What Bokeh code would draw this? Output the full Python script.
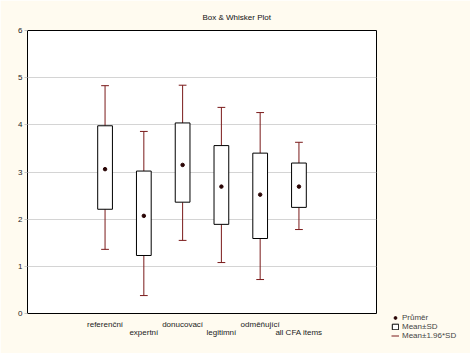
from bokeh.plotting import figure
from bokeh.models import (ColumnDataSource, LinearAxis, FixedTicker, Range1d,
                          Legend, LegendItem, Grid)
from bokeh.embed import file_html
from bokeh.resources import INLINE

categories = ["referenční", "expertní", "donucovací", "legitimní", "odměňující", "all CFA items"]
mean = [3.06, 2.07, 3.15, 2.69, 2.52, 2.69]
sd_low = [2.21, 1.23, 2.36, 1.89, 1.59, 2.25]
sd_high = [3.98, 3.02, 4.04, 3.56, 3.40, 3.19]
ci_low = [1.36, 0.38, 1.55, 1.08, 0.72, 1.78]
ci_high = [4.83, 3.86, 4.84, 4.37, 4.26, 3.63]
y_ticks = [0, 1, 2, 3, 4, 5, 6]

pos = list(range(1, len(categories) + 1))
FONT = "Liberation Sans"
BG = "#FFFBF0"

src = ColumnDataSource(dict(x=pos, mean=mean, sd_low=sd_low, sd_high=sd_high,
                            ci_low=ci_low, ci_high=ci_high,
                            xl=[v - 0.1 for v in pos], xr=[v + 0.1 for v in pos],
                            bl=[v - 0.19 for v in pos], br=[v + 0.19 for v in pos]))

p = figure(frame_width=349, frame_height=283, output_backend="svg", toolbar_location=None,
           x_axis_type=None, y_axis_type=None,
           x_range=Range1d(-1, 8), y_range=Range1d(0, 6),
           min_border_left=27, min_border_right=94, min_border_top=30, min_border_bottom=40)
p.background_fill_color = "white"
p.border_fill_color = BG
p.outline_line_color = "black"
p.outline_line_width = 1

p.title.text = "Box & Whisker Plot"
p.title.text_font = FONT
p.title.text_font_size = "8px"
p.title.text_font_style = "normal"
p.title.text_color = "#111111"
p.title.align = "left"
p.title.offset = 175
p.title.standoff = 17

# y axis
yax = LinearAxis(ticker=FixedTicker(ticks=y_ticks))
yax.major_label_text_font = FONT
yax.major_label_text_font_size = "8px"
yax.major_label_text_color = "#222222"
yax.major_tick_in = 0
yax.major_tick_out = 3
yax.major_tick_line_color = "#C8C8C8"
yax.minor_tick_line_color = None
yax.axis_line_color = "black"
yax.axis_line_width = 1
yax.major_label_standoff = 2
p.add_layout(yax, "left")

# staggered x axes
def make_xaxis(idx, standoff):
    ax = LinearAxis(ticker=FixedTicker(ticks=[pos[i] for i in idx]))
    ax.major_label_overrides = {pos[i]: categories[i] for i in idx}
    ax.major_label_text_font = FONT
    ax.major_label_text_font_size = "8px"
    ax.major_label_text_color = "#222222"
    ax.major_tick_line_color = None
    ax.minor_tick_line_color = None
    ax.major_tick_out = 0
    ax.major_tick_in = 0
    ax.axis_line_color = None
    ax.major_label_standoff = standoff
    return ax

ax1 = make_xaxis([0, 2, 4], 6)
ax2 = make_xaxis([1, 3, 5], -4)
p.add_layout(ax1, "below")
p.add_layout(ax2, "below")

# grid
g = Grid(dimension=1, ticker=FixedTicker(ticks=y_ticks[1:-1]))
g.grid_line_color = "#D4D4D4"
p.add_layout(g)

WC = "#7A1A1A"
# whiskers (mean ± 1.96*SD)
r_wh = p.segment(x0="x", y0="ci_low", x1="x", y1="sd_low", source=src, line_color=WC, line_width=1)
p.segment(x0="x", y0="sd_high", x1="x", y1="ci_high", source=src, line_color=WC, line_width=1)
p.segment(x0="xl", y0="ci_low", x1="xr", y1="ci_low", source=src, line_color=WC, line_width=1)
p.segment(x0="xl", y0="ci_high", x1="xr", y1="ci_high", source=src, line_color=WC, line_width=1)
# boxes (mean ± SD)
r_box = p.quad(left="bl", right="br", bottom="sd_low", top="sd_high", source=src,
               fill_color="white", line_color="black", line_width=1)
# means
r_mean = p.scatter(x="x", y="mean", source=src, size=3.5, fill_color="#2A0505",
                   line_color="#2A0505")

legend = Legend(items=[LegendItem(label="Průměr", renderers=[r_mean]),
                       LegendItem(label="Mean±SD", renderers=[r_box]),
                       LegendItem(label="Mean±1.96*SD", renderers=[r_wh])],
                location=(15, -27))
legend.label_text_font = FONT
legend.label_text_font_size = "8px"
legend.label_height = 7
legend.glyph_height = 7
legend.glyph_width = 8
legend.spacing = 0
legend.padding = 0
legend.margin = 0
legend.label_standoff = 3
legend.border_line_color = None
legend.background_fill_alpha = 0
p.add_layout(legend, "right")

p.styles = {"outline": "1px solid black", "outline-offset": "-2px"}

open("out.html", "w").write(file_html(p, INLINE))
